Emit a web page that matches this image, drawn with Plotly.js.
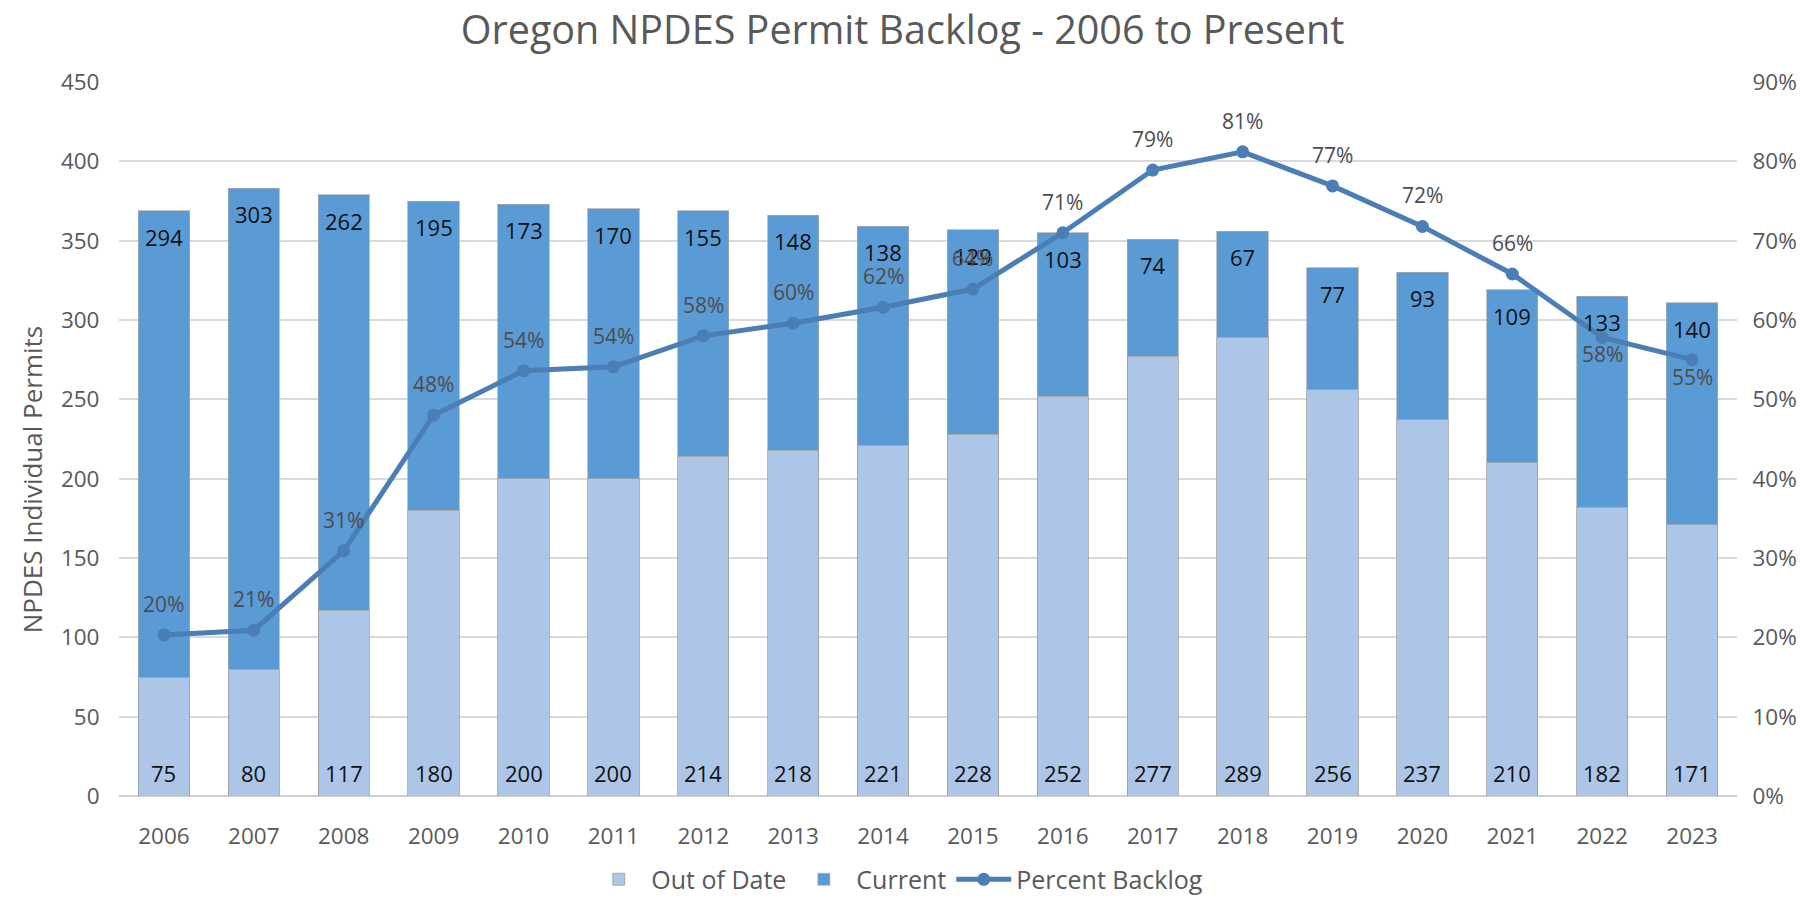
<!DOCTYPE html>
<html>
<head>
<meta charset="utf-8">
<script src="https://cdn.plot.ly/plotly-3.0.1.min.js"></script>
<style>
  html, body { margin: 0; padding: 0; background: #ffffff; }
  #chart { width: 1816px; height: 901px; }
</style>
</head>
<body>
<div id="chart"></div>
<script>
// ---- Data ----
const years = ['2006','2007','2008','2009','2010','2011','2012','2013','2014','2015','2016','2017','2018','2019','2020','2021','2022','2023'];
const outOfDate = [75, 80, 117, 180, 200, 200, 214, 218, 221, 228, 252, 277, 289, 256, 237, 210, 182, 171];
const current = [294, 303, 262, 195, 173, 170, 155, 148, 138, 129, 103, 74, 67, 77, 93, 109, 133, 140];
const percentBacklog = [0.203, 0.209, 0.309, 0.480, 0.536, 0.541, 0.580, 0.596, 0.616, 0.639, 0.710, 0.789, 0.812, 0.769, 0.718, 0.658, 0.578, 0.550];
const yTickVals = [0, 50, 100, 150, 200, 250, 300, 350, 400, 450];
const y2TickVals = [0, 0.1, 0.2, 0.3, 0.4, 0.5, 0.6, 0.7, 0.8, 0.9];

// ---- Styling ----
const FONT = 'Open Sans, Noto Sans, sans-serif';
const GREY = '#595959';
const labelsBelow = ['2022', '2023'];

const traces = [
  {
    type: 'bar', name: 'Out of Date', x: years, y: outOfDate,
    marker: { color: '#adc5e6', line: { color: 'rgba(150,150,150,0.7)', width: 1 } },
    hoverinfo: 'x+y'
  },
  {
    type: 'bar', name: 'Current', x: years, y: current,
    marker: { color: '#5b9bd5', line: { color: 'rgba(170,170,170,0.7)', width: 1 } },
    hoverinfo: 'x+y'
  },
  {
    type: 'scatter', mode: 'lines+markers', name: 'Percent Backlog',
    x: years, y: percentBacklog, yaxis: 'y2',
    line: { color: '#4a7eb5', width: 5 },
    marker: { color: '#4a7eb5', size: 13 },
    hoverinfo: 'x+y'
  }
];

// annotations reference categories by their index on the category axis
const annotations = [];
years.forEach((yr, i) => {
  annotations.push({
    x: i, y: 0, xref: 'x', yref: 'y', text: String(outOfDate[i]),
    showarrow: false, yanchor: 'middle', yshift: 23,
    font: { family: FONT, size: 22, color: '#111111' }
  });
  annotations.push({
    x: i, y: outOfDate[i] + current[i], xref: 'x', yref: 'y', text: String(current[i]),
    showarrow: false, yanchor: 'middle', yshift: -26,
    font: { family: FONT, size: 22, color: '#111111' }
  });
  const below = labelsBelow.includes(yr);
  annotations.push({
    x: i, y: percentBacklog[i], xref: 'x', yref: 'y2',
    text: Math.round(percentBacklog[i] * 100) + '%',
    showarrow: false, yanchor: 'middle', yshift: below ? -17 : 31,
    font: { family: FONT, size: 21, color: '#4d4d4d' }
  });
});

// left axis title (placed slightly below the plot's mid-height, as in the reference)
annotations.push({
  text: 'NPDES Individual Permits', textangle: -90,
  xref: 'paper', yref: 'paper', x: -0.054, y: 0.443,
  xanchor: 'center', yanchor: 'middle', showarrow: false,
  font: { family: FONT, size: 26, color: GREY }
});

const layout = {
  width: 1816, height: 901,
  paper_bgcolor: '#ffffff', plot_bgcolor: '#ffffff',
  margin: { l: 119, r: 79, t: 82, b: 105, pad: 0, autoexpand: false },
  font: { family: FONT, color: GREY },
  barmode: 'stack',
  bargap: 0.43,
  title: {
    text: 'Oregon NPDES Permit Backlog - 2006 to Present',
    font: { family: FONT, size: 39.5, color: GREY },
    x: 0.497, xref: 'container', xanchor: 'center',
    y: 0.966, yref: 'container', yanchor: 'middle'
  },
  xaxis: {
    type: 'category',
    range: [-0.5, years.length - 0.5], autorange: false,
    showgrid: false, zeroline: false,
    showline: false,
    ticks: 'outside', ticklen: 20, tickcolor: 'rgba(0,0,0,0)',
    tickfont: { family: FONT, size: 22.5, color: GREY }
  },
  yaxis: {
    range: [0, 450], autorange: false, tickvals: yTickVals,
    showgrid: true, gridcolor: '#d9d9d9', gridwidth: 2,
    zeroline: true, zerolinecolor: '#cfcfcf', zerolinewidth: 2,
    showline: false,
    ticks: 'outside', ticklen: 14, tickcolor: 'rgba(0,0,0,0)',
    tickfont: { family: FONT, size: 22.5, color: GREY }
  },
  yaxis2: {
    overlaying: 'y', side: 'right',
    range: [0, 0.9], autorange: false, tickvals: y2TickVals, tickformat: '.0%',
    showgrid: false, zeroline: false, showline: false,
    ticks: 'outside', ticklen: 10, tickcolor: 'rgba(0,0,0,0)',
    tickfont: { family: FONT, size: 22.5, color: GREY }
  },
  legend: {
    orientation: 'h', x: 0.481, xanchor: 'center',
    y: -0.117, yanchor: 'middle',
    font: { family: FONT, size: 25, color: GREY },
    traceorder: 'normal', itemwidth: 55,
    bgcolor: 'rgba(0,0,0,0)'
  },
  annotations: annotations,
  showlegend: true
};

Plotly.newPlot('chart', traces, layout, { displayModeBar: false, responsive: false });
</script>
</body>
</html>
